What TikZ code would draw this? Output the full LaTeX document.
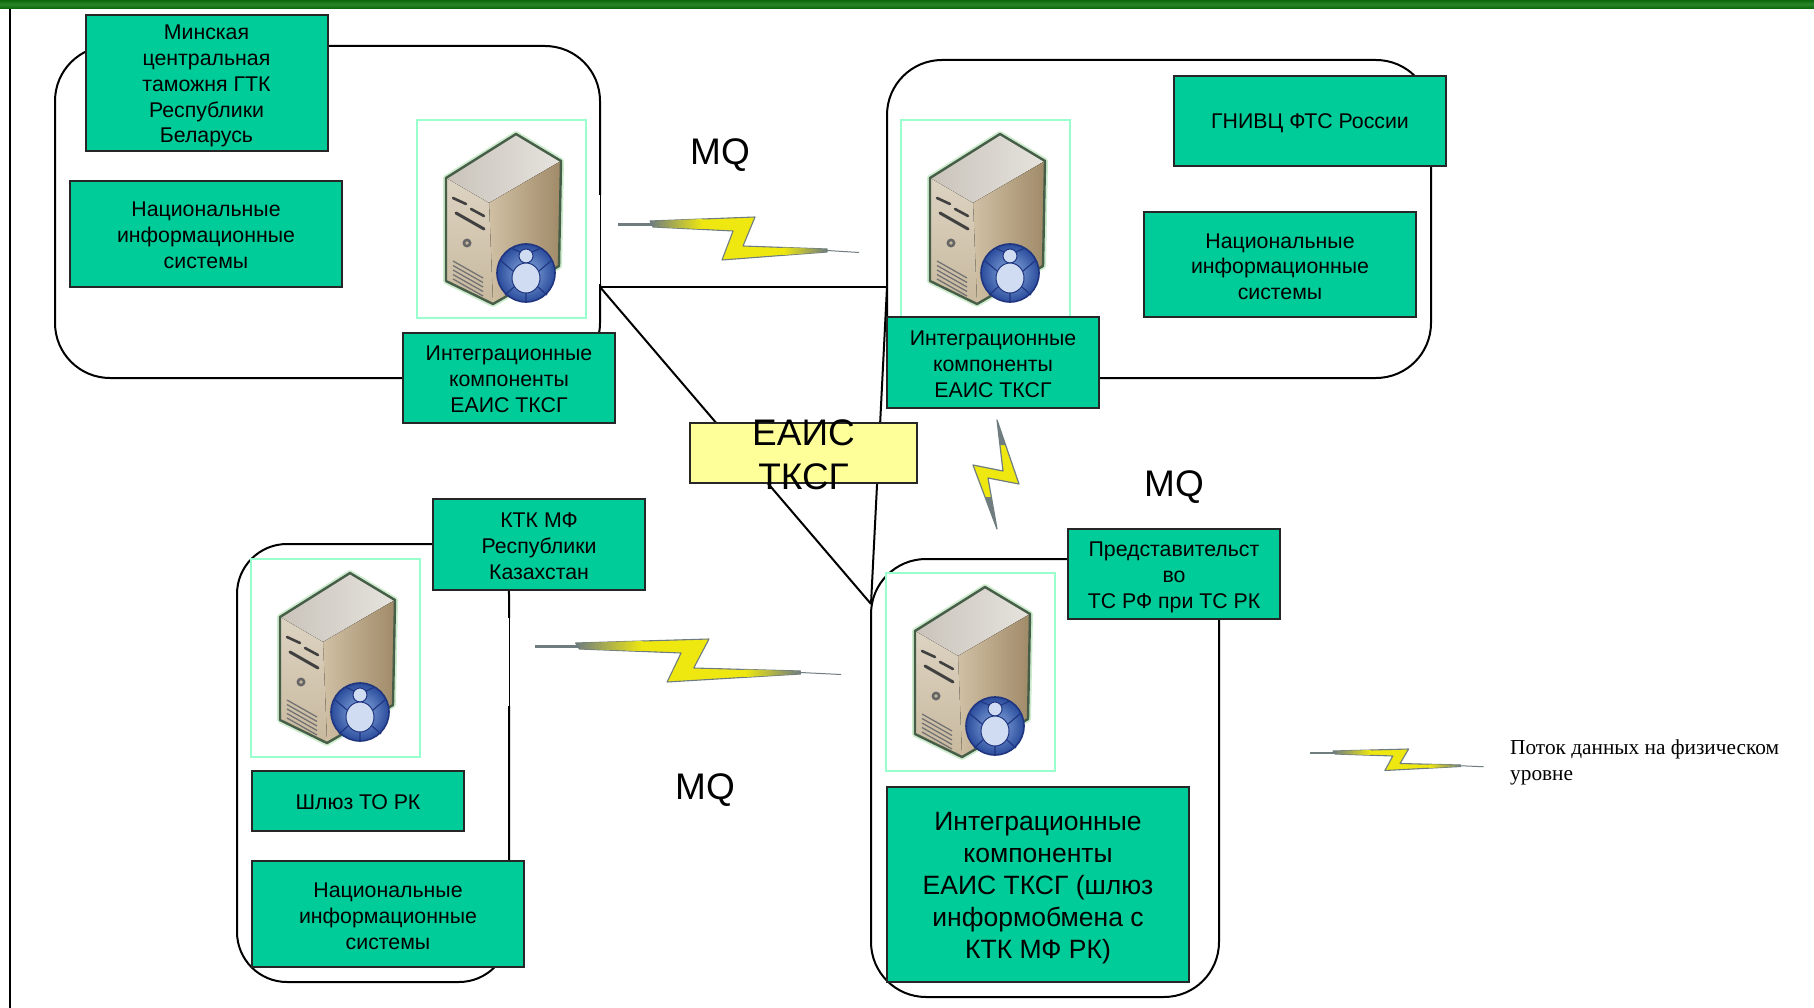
\documentclass[tikz,border=0pt]{standalone}
\usepackage{fontspec}
\setmainfont{Liberation Sans}
\newfontfamily\legendfont{Liberation Serif}
\newcommand{\firstline}[1]{\rule{0pt}{#1pt}}
\definecolor{boxgreen}{HTML}{00CC99}
\definecolor{boxyellow}{HTML}{FFFF99}
\definecolor{framemint}{HTML}{99FFCC}
\definecolor{bandgreen}{HTML}{0D680C}
\definecolor{bandlight}{HTML}{2A8526}
\definecolor{boltgrey}{HTML}{6F7D80}
\definecolor{boltyellow}{HTML}{EFE810}
\definecolor{caseedge}{HTML}{465E48}
\definecolor{casehalo}{HTML}{CDEBCD}
\definecolor{casetopa}{HTML}{C9C3BA}
\definecolor{casetopb}{HTML}{E6E3DE}
\definecolor{caserighta}{HTML}{D0C0A4}
\definecolor{caserightb}{HTML}{A08A68}
\definecolor{caselefta}{HTML}{DDD3C2}
\definecolor{caseleftb}{HTML}{C8B99E}
\definecolor{globeout}{HTML}{2A4C9C}
\definecolor{globein}{HTML}{8FB0E2}
\definecolor{globepale}{HTML}{CFDCF2}
\definecolor{globeline}{HTML}{1F3580}
\tikzset{
  x=1pt,y=-1pt,
  gbox/.style={draw=black!85,line width=2pt,fill=boxgreen,align=center,inner sep=0pt,font=\fontsize{21.3}{25.8}\selectfont},
  bigbox/.style={gbox,font=\fontsize{26.5}{32}\selectfont},
  ybox/.style={draw=black!85,line width=2pt,fill=boxyellow,inner sep=0pt},
  area/.style={draw=black,line width=2pt,fill=white,inner sep=0pt},
  link/.style={draw=black,line width=2pt},
  mq/.style={font=\fontsize{37}{44}\selectfont,inner sep=0pt,align=center},
  legendtext/.style={font=\legendfont\fontsize{21.3}{26}\selectfont,align=left,inner sep=0pt,anchor=north west},
  pics/server/.style={code={
    \fill[white] (0,0) rectangle (169,198);
    \draw[framemint,line width=2pt] (0,0) rectangle (169,198);
    \draw[casehalo,line width=6pt,line join=round] (99,14)--(144,41)--(142,146)--(76,184)--(29,161)--(29,58)--cycle;
    \fill[left color=casetopa,right color=casetopb] (99,14)--(144,41)--(72,83)--(29,58)--cycle;
    \fill[left color=caserighta,right color=caserightb] (72,83)--(144,41)--(142,146)--(76,184)--cycle;
    \fill[top color=caselefta,bottom color=caseleftb] (29,58)--(72,83)--(76,184)--(29,161)--cycle;
    \draw[caseedge,line width=2.4pt,line join=round] (99,14)--(144,41)--(142,146)--(76,184)--(29,161)--(29,58)--cycle;
    \draw[black!75,line width=2.6pt,line cap=round] (36,78)--(49,84) (54,89)--(67,96);
    \draw[black!75,line width=3pt,line cap=round] (39,93)--(67,109);
    \fill[black!60] (50,123) circle (4.5);
    \fill[caseleftb] (50,123) circle (1.8);
    \foreach \yy in {0,4.5,...,20}{\draw[black!55,line width=1.3pt] (36,141+\yy)--(66,158+\yy);}
    \shade[inner color=globein,outer color=globeout,draw=globeline,line width=1.6pt] (109,153) circle (29);
    \fill[globepale,draw=globeline,line width=1pt] (109,136) circle (7);
    \fill[globepale,draw=globeline,line width=1pt] (109,158) ellipse (14 and 15);
    \draw[globeline,line width=1.1pt] (96,151)--(83,140) (122,151)--(135,140) (97,167)--(88,175) (121,167)--(130,175) (109,173)--(109,181) (103,132)--(94,128) (115,132)--(124,128);
  }},
  pics/bolt/.style={code={
    \fill[boltyellow,draw=boltgrey,line width=1.1pt,line join=round]
      (32,-3)--(137,-7)--(125,22)--(209,25)--(209,28)--(104,36)--(115,7)--(35,3)--cycle;
    \shade[left color=boltgrey,right color=boltyellow] (32,-3)--(85,-5)--(85,5)--(35,3)--cycle;
    \shade[left color=boltyellow,right color=boltgrey] (165,23.5)--(209,25)--(209,28)--(165,31)--cycle;
    \draw[boltgrey,line width=2.4pt] (0,.5)--(35,.5);
    \draw[boltgrey,line width=1pt] (209,26.5)--(241,28.5);
  }},
}
\begin{document}
\begin{tikzpicture}
\useasboundingbox (0,0) rectangle (1814,1008);
\fill[white] (0,0) rectangle (1814,1008);
\shade[top color=bandgreen,bottom color=bandgreen,middle color=bandlight] (0,0) rectangle (1814,8.5);
\coordinate (railtop) at (10,9);
\coordinate (railbottom) at (10,1008);
\draw[link] (railtop) -- (railbottom);

% rounded areas
\node[area,rounded corners=55pt,minimum width=545,minimum height=332] (area1) at (327.5,212) {};
\node[area,rounded corners=55pt,minimum width=544,minimum height=318] (area2) at (1159,219) {};
\node[area,rounded corners=50pt,minimum width=272,minimum height=438] (area3) at (373,763) {};
\node[area,rounded corners=55pt,minimum width=348,minimum height=438] (area4) at (1045,778) {};

% connectors
\coordinate (j1) at (600,287);
\coordinate (j2) at (887,287);
\coordinate (j3) at (871,604);
\draw[link] (j1) -- (j2);
\draw[link] (j1) -- (j3);
\draw[link] (j2) -- (j3);

% bolts on white patches
\fill[white] (598,195) rectangle (870,284);
\draw[black,line width=.7pt] (600,195) -- (600,284);
\pic at (618,224) {bolt};
\fill[white] (507,618) rectangle (860,706);
\draw[black,line width=.7pt] (509,618) -- (509,706);
\pic[xscale=1.27] at (535,646) {bolt};
\pic[xscale=.72,yscale=.5] at (1310,752.5) {bolt};
\fill[boltyellow,draw=boltgrey,line width=1.2pt,line join=round]
  (997,420)--(1019,484)--(988,478)--(997,529)--(973,465)--(1003,471)--cycle;
\fill[boltgrey] (997,420)--(1005.6,445)--(1000,445)--cycle;
\fill[boltgrey] (997,529)--(991,497)--(985,497)--cycle;

% servers
\pic at (417,120) {server};
\pic at (901,120) {server};
\pic at (251,559) {server};
\pic at (886,573) {server};

% boxes
\node[gbox,minimum width=242,minimum height=136] (minsk) at (206.5,83) {\firstline{21}Минская\\центральная\\таможня ГТК\\Республики\\Беларусь};
\node[gbox,minimum width=272,minimum height=106] (nis1) at (206,234) {\firstline{17.6}Национальные\\информационные\\системы};
\node[gbox,minimum width=212,minimum height=90] (int1) at (509,378) {\firstline{17.6}Интеграционные\\компоненты\\ЕАИС ТКСГ};
\node[gbox,minimum width=272,minimum height=90] (gnivc) at (1310,121) {\firstline{20}ГНИВЦ ФТС России};
\node[gbox,minimum width=272,minimum height=105] (nis2) at (1280,264.5) {\firstline{19}Национальные\\информационные\\системы};
\node[gbox,minimum width=212,minimum height=91] (int2) at (993,362.5) {\firstline{18.6}Интеграционные\\компоненты\\ЕАИС ТКСГ};
\node[ybox,minimum width=227,minimum height=60] (eais) at (803.5,453) {};
\node[mq] (eaistext) at (803.5,455) {ЕАИС\\ТКСГ};
\node[gbox,minimum width=212,minimum height=91] (ktk) at (539,544.5) {\firstline{17.6}КТК МФ\\Республики\\Казахстан};
\node[gbox,minimum width=212,minimum height=60] (gate) at (358,801) {\firstline{17.6}Шлюз ТО РК};
\node[gbox,minimum width=272,minimum height=106] (nis3) at (388,914) {\firstline{19}Национальные\\информационные\\системы};
\node[gbox,minimum width=212,minimum height=90] (rep) at (1174,574) {\firstline{21}Представительст\\во\\ТС РФ при ТС РК};
\node[bigbox,minimum width=302,minimum height=195] (int4) at (1038,884.5) {\firstline{26}Интеграционные\\компоненты\\ЕАИС ТКСГ (шлюз\\информобмена с\\КТК МФ РК)};

% labels
\node[mq] (mq1) at (720,155.5) {MQ};
\node[mq] (mq2) at (1174,487.5) {MQ};
\node[mq] (mq3) at (705,790.5) {MQ};
\node[legendtext] (legend) at (1510,739.5) {Поток данных на физическом\\уровне};
\end{tikzpicture}
\end{document}
